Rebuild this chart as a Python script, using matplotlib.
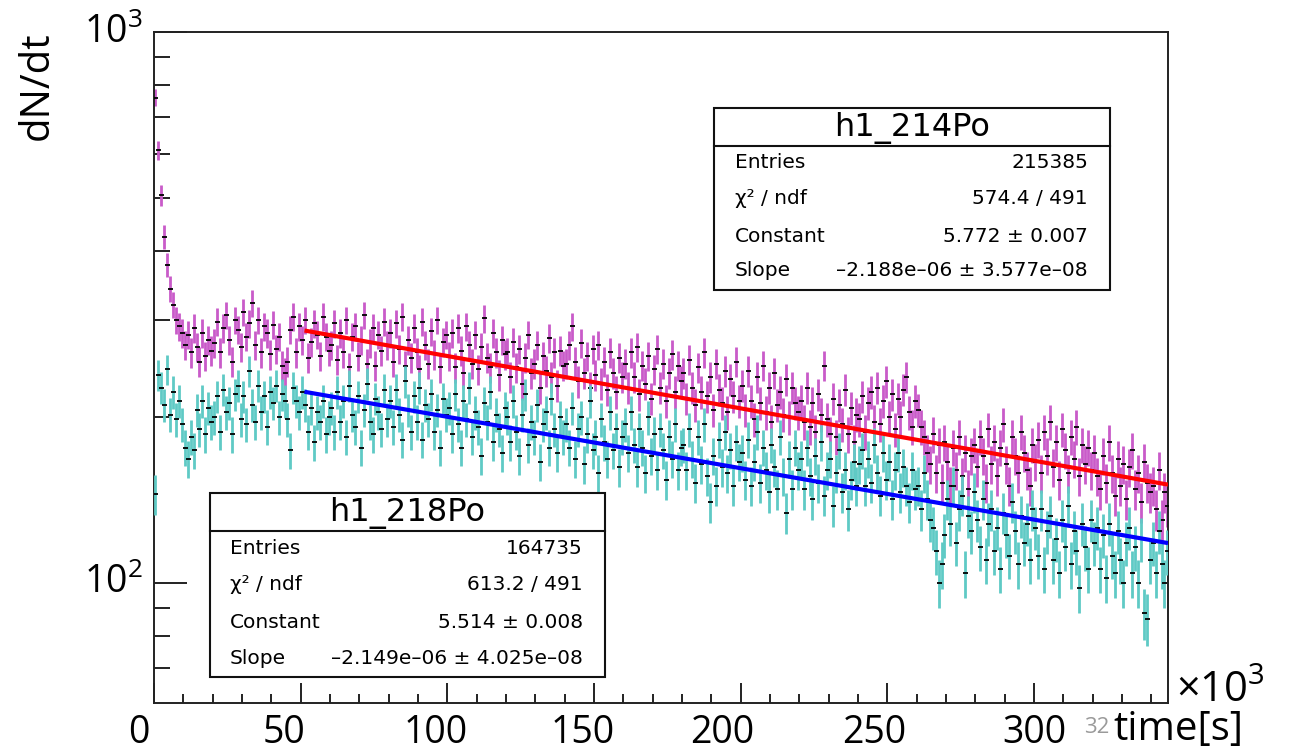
import numpy as np
import matplotlib
matplotlib.use("Agg")
import matplotlib.pyplot as plt
from matplotlib.patches import Rectangle
from matplotlib.lines import Line2D
from matplotlib.ticker import FixedLocator, MultipleLocator, NullFormatter
import matplotlib.transforms as mtrans

# ---------------- data ----------------
BIN_WIDTH = 1000.0          # seconds per bin
COUNTS_PER_UNIT = 1.0       # used for Poisson error bars

po214 = [
    760, 610, 505, 425, 378, 342, 320, 300, 292, 284, 270, 282, 262, 290, 268, 252, 284, 258, 276, 264,
    272, 298, 262, 290, 306, 276, 252, 300, 288, 268, 310, 280, 296, 322, 270, 300, 262, 292, 284, 260,
    294, 266, 280, 248, 240, 252, 288, 304, 262, 292, 276, 300, 256, 274, 296, 282, 258, 304, 280, 264,
    270, 296, 254, 284, 262, 300, 246, 280, 292, 258, 276, 306, 250, 272, 290, 248, 282, 264, 298, 270,
    284, 252, 296, 266, 304, 248, 276, 256, 290, 262, 244, 298, 270, 250, 286, 260, 300, 246, 274, 282,
    258, 284, 246, 290, 264, 240, 292, 270, 250, 282, 244, 268, 302, 256, 246, 284, 262, 238, 276, 260,
    262, 236, 274, 246, 266, 230, 256, 282, 240, 250, 270, 226, 258, 242, 278, 236, 262, 228, 264, 248,
    250, 270, 292, 252, 232, 272, 240, 258, 226, 266, 238, 270, 230, 252, 224, 262, 240, 222, 256, 236,
    250, 226, 262, 236, 268, 220, 248, 230, 258, 216, 244, 266, 226, 250, 214, 240, 260, 222, 248, 232,
    240, 216, 254, 226, 210, 246, 222, 262, 218, 236, 206, 250, 224, 212, 242, 204, 234, 218, 252, 214,
    228, 206, 242, 214, 198, 236, 212, 248, 204, 226, 196, 240, 210, 222, 202, 234, 200, 226, 212, 204,
    214, 196, 226, 192, 212, 188, 220, 202, 248, 198, 186, 216, 184, 210, 194, 224, 186, 208, 180, 202,
    198, 218, 188, 212, 222, 196, 226, 194, 214, 232, 200, 220, 190, 216, 200, 224, 236, 204, 192, 214,
    206, 192, 184, 172, 164, 186, 158, 178, 152, 180, 166, 150, 176, 160, 184, 156, 172, 148, 170, 178,
    162, 184, 170, 152, 190, 164, 180, 156, 176, 194, 164, 150, 184, 170, 158, 188, 172, 160, 150, 178,
    166, 182, 158, 188, 170, 196, 162, 180, 154, 190, 174, 158, 184, 168, 192, 156, 178, 164, 176, 160,
    172, 156, 148, 170, 152, 180, 158, 144, 168, 150, 164, 142, 162, 174, 148, 158, 140, 166, 152, 146,
    150, 136, 160, 130, 146, 138,
]

po218 = [
    145, 238, 226, 210, 244, 202, 222, 198, 214, 194, 176, 168, 184, 174, 206, 190, 214, 186, 208, 196,
    200, 218, 188, 224, 204, 212, 186, 220, 228, 198, 218, 194, 242, 210, 196, 228, 204, 218, 192, 222,
    212, 228, 200, 220, 214, 198, 174, 226, 214, 204, 222, 210, 188, 208, 180, 204, 196, 214, 186, 200,
    208, 188, 222, 196, 214, 184, 228, 202, 192, 218, 176, 206, 230, 196, 186, 216, 204, 190, 224, 198,
    214, 192, 224, 202, 182, 232, 206, 188, 218, 196, 226, 182, 210, 198, 220, 188, 206, 176, 216, 202,
    208, 186, 220, 194, 176, 214, 198, 226, 184, 204, 192, 170, 212, 196, 222, 180, 202, 190, 172, 208,
    200, 180, 214, 188, 170, 202, 220, 178, 196, 184, 210, 166, 194, 204, 176, 216, 190, 172, 200, 184,
    194, 176, 208, 168, 190, 200, 164, 186, 214, 174, 184, 158, 198, 180, 168, 204, 174, 190, 162, 184,
    194, 172, 204, 178, 162, 190, 176, 158, 200, 170, 186, 160, 190, 174, 154, 184, 168, 194, 160, 176,
    178, 160, 190, 168, 152, 184, 164, 194, 156, 140, 170, 150, 182, 162, 188, 158, 174, 150, 180, 166,
    172, 154, 182, 150, 166, 188, 152, 176, 160, 146, 178, 162, 148, 184, 156, 134, 168, 148, 176, 160,
    168, 148, 176, 156, 142, 170, 152, 180, 144, 160, 168, 138, 158, 174, 146, 160, 136, 154, 166, 150,
    164, 174, 150, 168, 152, 178, 158, 144, 172, 154, 166, 142, 160, 172, 146, 162, 150, 140, 160, 148,
    150, 136, 158, 142, 130, 126, 114, 100, 108, 122, 142, 128, 150, 118, 136, 144, 104, 132, 124, 146,
    130, 116, 142, 110, 128, 136, 114, 126, 106, 134, 122, 112, 140, 124, 108, 132, 118, 128, 110, 136,
    126, 112, 136, 106, 124, 132, 110, 120, 104, 130, 116, 138, 108, 124, 114, 98, 128, 116, 106, 130,
    118, 126, 106, 122, 102, 128, 112, 104, 124, 110, 100, 118, 126, 104, 116, 100, 120, 88, 86, 110,
    118, 104, 124, 108, 100, 114,
]

# fit results (from the stat boxes)
fit214_const, fit214_slope = 5.772, -2.188e-06
fit218_const, fit218_slope = 5.514, -2.149e-06
fit_range = (52000, 345000)

stats214_title = "h1_214Po"
stats214_labels = ["Entries", "χ² / ndf", "Constant", "Slope"]
stats214_values = ["215385", "574.4 / 491", "5.772 ± 0.007", "–2.188e–06 ± 3.577e–08"]
stats218_title = "h1_218Po"
stats218_labels = ["Entries", "χ² / ndf", "Constant", "Slope"]
stats218_values = ["164735", "613.2 / 491", "5.514 ± 0.008", "–2.149e–06 ± 4.025e–08"]

x_ticks = [0, 50000, 100000, 150000, 200000, 250000, 300000]
x_tick_labels = ["0", "50", "100", "150", "200", "250", "300"]
y_ticks = [100, 1000]
y_tick_labels = ["10$^{2}$", "10$^{3}$"]

# ---------------- style ----------------
W, H = 1291, 753
plt.rcParams["font.family"] = ["Open Sans", "DejaVu Sans"]
plt.rcParams["mathtext.fontset"] = "custom"
plt.rcParams["mathtext.rm"] = "Open Sans"
plt.rcParams["mathtext.it"] = "Open Sans:italic"
plt.rcParams["mathtext.bf"] = "Open Sans:bold"

C214 = "#C95BC9"
C218 = "#5FCAC5"

fig = plt.figure(figsize=(W / 100, H / 100), dpi=100)


def fx(px):
    return px / W


def fy(py):
    return 1 - py / H


ax = fig.add_axes([fx(154), fy(703), (1168 - 154) / W, (703 - 32) / H])
ax.set_yscale("log")
ax.set_xlim(0, 345700)
ax.set_ylim(60.5, 1000)

t214 = np.arange(len(po214)) * BIN_WIDTH + BIN_WIDTH / 2
t218 = np.arange(len(po218)) * BIN_WIDTH + BIN_WIDTH / 2
v214 = np.array(po214, float)
v218 = np.array(po218, float)
e214 = np.sqrt(v214 / COUNTS_PER_UNIT)
e218 = np.sqrt(v218 / COUNTS_PER_UNIT)

ax.vlines(t214, v214 - e214, v214 + e214, color=C214, lw=2.0, zorder=2)
ax.plot(t214, v214, ls="none", marker="_", ms=3.6, mew=1.3, color="black", zorder=3)
ax.vlines(t218, v218 - e218, v218 + e218, color=C218, lw=2.0, zorder=4)
ax.plot(t218, v218, ls="none", marker="_", ms=3.6, mew=1.3, color="black", zorder=5)

tf = np.linspace(fit_range[0], fit_range[1], 300)
ax.plot(tf, np.exp(fit214_const + fit214_slope * tf), color="#FF0000", lw=3, zorder=6)
ax.plot(tf, np.exp(fit218_const + fit218_slope * tf), color="#0000FF", lw=3, zorder=6)

# axes style
for s in ax.spines.values():
    s.set_linewidth(1.4)
    s.set_color("#222222")

ax.xaxis.set_major_locator(FixedLocator(x_ticks))
ax.set_xticklabels(x_tick_labels)
ax.xaxis.set_minor_locator(MultipleLocator(10000))
ax.yaxis.set_major_locator(FixedLocator(y_ticks))
ax.set_yticklabels(y_tick_labels)
ax.yaxis.set_minor_locator(FixedLocator([70, 80, 90, 200, 300, 400, 500, 600, 700, 800, 900]))
ax.yaxis.set_minor_formatter(NullFormatter())

ax.tick_params(axis="x", which="major", direction="in", length=14.4, width=1.4,
               color="#222222", labelsize=27, pad=8, top=False)
ax.tick_params(axis="x", which="minor", direction="in", length=6.5, width=1.4,
               color="#222222", top=False)
ax.tick_params(axis="y", which="major", direction="in", length=23.8, width=1.4,
               color="#222222", labelsize=27, pad=8, right=False)
ax.tick_params(axis="y", which="minor", direction="in", length=11.5, width=1.4,
               color="#222222", right=False)

# shift tick labels to match the reference placement
x_offsets_px = [-15, -17, -12, -11, -18, -13, 0]
for lab, dx in zip(ax.get_xticklabels(), x_offsets_px):
    lab.set_transform(lab.get_transform() + mtrans.ScaledTranslation(dx / 100, 0, fig.dpi_scale_trans))
for lab in ax.get_yticklabels():
    lab.set_transform(lab.get_transform() + mtrans.ScaledTranslation(0, 4 / 100, fig.dpi_scale_trans))

# axis titles
fig.text(fx(38), fy(86), "dN/dt", rotation=90, ha="center", va="center", fontsize=29)
fig.text(fx(1113), fy(740), "time[s]", ha="left", va="baseline", fontsize=29)
fig.text(fx(1176), fy(702), "×10$^{3}$", ha="left", va="baseline", fontsize=30)
fig.text(fx(1084), fy(733), "32", ha="left", va="baseline", fontsize=16, color="#9A9A9A")


# stat boxes
def stat_box(x0, y0, x1, y1, ydiv, title, labels, values, rows_y, lx, rx):
    fig.add_artist(Rectangle((fx(x0), fy(y1)), fx(x1) - fx(x0), fy(y0) - fy(y1),
                             transform=fig.transFigure, facecolor="white",
                             edgecolor="#111111", lw=1.5, zorder=10))
    fig.add_artist(Line2D([fx(x0), fx(x1)], [fy(ydiv), fy(ydiv)], transform=fig.transFigure,
                          color="#111111", lw=1.5, zorder=11))
    fig.text(fx((x0 + x1) / 2), fy((y0 + ydiv) / 2 + 1), title, ha="center", va="center",
             fontsize=23, family="DejaVu Sans", zorder=12)
    for yy, lab, val in zip(rows_y, labels, values):
        fig.text(fx(lx), fy(yy), lab, ha="left", va="center", fontsize=14.5,
                 family="DejaVu Sans", zorder=12)
        fig.text(fx(rx), fy(yy), val, ha="right", va="center", fontsize=14.5,
                 family="DejaVu Sans", zorder=12)


stat_box(714, 108, 1110, 290, 146, stats214_title, stats214_labels, stats214_values,
         [163, 199, 236, 270], 735, 1088)
stat_box(210, 493, 605, 677, 531, stats218_title, stats218_labels, stats218_values,
         [549, 585, 622, 658], 230, 583)

fig.savefig("out.png", dpi=100)
